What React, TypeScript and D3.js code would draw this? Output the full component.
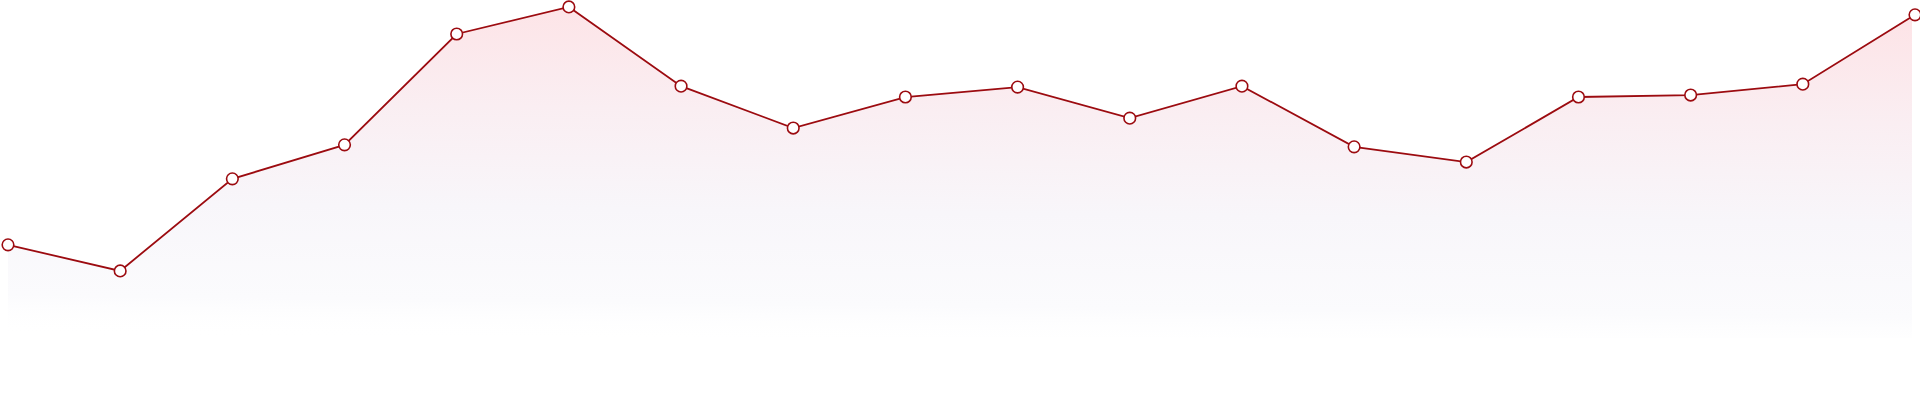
import { useEffect, useRef } from 'react';
import * as d3 from 'd3';

const labels = [
  'P1', 'P2', 'P3', 'P4', 'P5', 'P6', 'P7', 'P8', 'P9',
  'P10', 'P11', 'P12', 'P13', 'P14', 'P15', 'P16', 'P17', 'P18',
];
const values = [25.8, 17.9, 45.8, 56.1, 89.7, 97.9, 73.9, 61.2, 70.6, 73.6, 64.2, 73.9, 55.5, 50.9, 70.6, 71.2, 74.5, 95.5];
const baseValue = -2.5;

const width = 1920;
const height = 400;

export default function App() {
  const svgRef = useRef<SVGSVGElement>(null);

  useEffect(() => {
    if (!svgRef.current) return;
    const root = d3.select(svgRef.current);
    root.selectAll('*').remove();

    const x = d3.scalePoint<string>().domain(labels).range([8, 1915]);
    const y = d3.scaleLinear().domain([0, 100]).range([330, 0]);

    const defs = root.append('defs');
    const grad = defs
      .append('linearGradient')
      .attr('id', 'areaFill')
      .attr('gradientUnits', 'userSpaceOnUse')
      .attr('x1', 0)
      .attr('y1', 0)
      .attr('x2', -4)
      .attr('y2', 335);
    grad.append('stop').attr('offset', '0%').attr('stop-color', '#fde4e7');
    grad.append('stop').attr('offset', '30%').attr('stop-color', '#faeef2');
    grad.append('stop').attr('offset', '60%').attr('stop-color', '#f8f6fa');
    grad.append('stop').attr('offset', '88%').attr('stop-color', '#fbfbfd');
    grad.append('stop').attr('offset', '100%').attr('stop-color', '#ffffff').attr('stop-opacity', 0);

    defs
      .append('clipPath')
      .attr('id', 'areaClip')
      .append('rect')
      .attr('x', 0)
      .attr('y', 0)
      .attr('width', 1912)
      .attr('height', height);

    const area = d3
      .area<number>()
      .x((_, i) => x(labels[i]) || 0)
      .y0(y(baseValue))
      .y1((d) => y(d));

    root
      .append('path')
      .datum(values)
      .attr('d', area)
      .attr('fill', 'url(#areaFill)')
      .attr('clip-path', 'url(#areaClip)');

    const line = d3
      .line<number>()
      .x((_, i) => x(labels[i]) || 0)
      .y((d) => y(d));

    root
      .append('path')
      .datum(values)
      .attr('d', line)
      .attr('fill', 'none')
      .attr('stroke', '#9c0b10')
      .attr('stroke-width', 1.8);

    root
      .selectAll('.dot')
      .data(values)
      .enter()
      .append('circle')
      .attr('class', 'dot')
      .attr('cx', (_, i) => x(labels[i]) || 0)
      .attr('cy', (d) => y(d))
      .attr('r', 5.8)
      .attr('fill', '#ffffff')
      .attr('stroke', '#9c0b10')
      .attr('stroke-width', 1.6);
  }, []);

  return (
    <svg
      ref={svgRef}
      width={width}
      height={height}
      style={{ position: 'absolute', left: 0, top: 0, display: 'block' }}
    />
  );
}
